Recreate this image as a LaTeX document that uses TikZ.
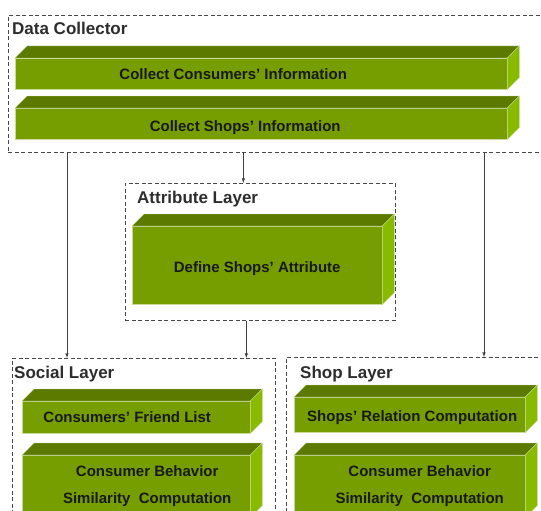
\documentclass[tikz,border=0pt]{standalone}
\usepackage{fontspec}
\setmainfont{Liberation Sans}
\usepackage{xcolor}
\definecolor{slabfront}{RGB}{119,158,0}
\definecolor{slabtop}{RGB}{92,122,0}
\definecolor{slabside}{RGB}{136,187,0}
\definecolor{slabedge}{RGB}{200,218,150}
\definecolor{framegray}{RGB}{70,70,70}
\definecolor{labelgray}{RGB}{45,45,45}
\usepackage{tikz}
\usetikzlibrary{positioning, arrows, calc}
\tikzstyle{frame} = [
    rectangle, draw=framegray,
    dash pattern=on 4pt off 2.5pt,
    line width=0.7pt,
]
\tikzstyle{layername} = [
    anchor=north west, inner sep=0pt,
    font=\bfseries\fontsize{17}{19}\selectfont,
    text=labelgray,
]
\tikzstyle{slab} = [
    rectangle, text centered, align=center,
    fill=slabfront, draw=slabedge, line width=0.4pt,
    font=\bfseries\fontsize{15}{18}\selectfont,
    text=black!90, inner sep=0pt,
]
\tikzstyle{arrow} = [->,>=latex, draw=black!75, line width=0.6pt]
\newcommand{\tshift}[1]{\hspace*{#1}}

\begin{document}
\begin{tikzpicture}[x=1pt, y=-1pt]
    \clip (0,0) rectangle (541,511);
    \fill[white] (0,0) rectangle (541,511);

    % frames
    \node (dc) [frame, anchor=north west, minimum width=545, minimum height=137] at (8,15) {};
    \node (attr) [frame, anchor=north west, minimum width=270, minimum height=137] at (125,183) {};
    \node (social) [frame, anchor=north west, minimum width=263, minimum height=180] at (12,358) {};
    \node (shop) [frame, anchor=north west, minimum width=270, minimum height=180] at (286,357) {};

    \node [layername] at (12,22) {Data Collector};
    \node [layername] at (137,191) {Attribute Layer};
    \node [layername] at (14,366) {Social Layer};
    \node [layername] at (300,366) {Shop Layer};

    % slabs (front faces)
    \node (consinfo) [slab, anchor=north west, minimum width=492, minimum height=31] at (15,58) {\tshift{-56pt}Collect Consumers’ Information};
    \node (shopinfo) [slab, anchor=north west, minimum width=492, minimum height=31, text height=19pt, text depth=3pt] at (15,108) {\tshift{-32pt}Collect Shops’ Information};
    \node (define) [slab, anchor=north west, minimum width=250, minimum height=78, text height=17pt, text depth=3pt] at (132,226) {Define Shops’ Attribute};
    \node (friends) [slab, anchor=north west, minimum width=228, minimum height=32] at (22,401) {\tshift{-18pt}Consumers’ Friend List};
    \node (socsim) [slab, anchor=north west, minimum width=228, minimum height=62] at (22,455) {\tshift{22pt}Consumer Behavior\\[9pt]\tshift{22pt}Similarity\ \ Computation};
    \node (relation) [slab, anchor=north west, minimum width=231, minimum height=35, text height=16pt, text depth=3pt] at (294,397) {\tshift{5pt}Shops’ Relation Computation};
    \node (shopsim) [slab, anchor=north west, minimum width=231, minimum height=62] at (294,455) {\tshift{20pt}Consumer Behavior\\[9pt]\tshift{20pt}Similarity\ \ Computation};

    % top and side faces
    \foreach \n in {consinfo, shopinfo, define, friends, socsim, relation, shopsim} {
        \filldraw[fill=slabtop, draw=slabedge, line width=0.4pt]
            (\n.north west) -- ++(12,-12) -- ($(\n.north east)+(12,-12)$) -- (\n.north east) -- cycle;
        \filldraw[fill=slabside, draw=slabedge, line width=0.4pt]
            (\n.north east) -- ++(12,-12) -- ($(\n.south east)+(12,-12)$) -- (\n.south east) -- cycle;
    }

    % arrows
    \draw [arrow] ([xshift=59]dc.south west) -- ([xshift=59]dc.south west |- social.north);
    \draw [arrow] ([xshift=-17]attr.north |- dc.south) -- ([xshift=-17]attr.north);
    \draw [arrow] ([xshift=-14]attr.south) -- ([xshift=-14]attr.south |- social.north);
    \draw [arrow] ([xshift=476]dc.south west) -- ([xshift=476]dc.south west |- shop.north);
\end{tikzpicture}
\end{document}
